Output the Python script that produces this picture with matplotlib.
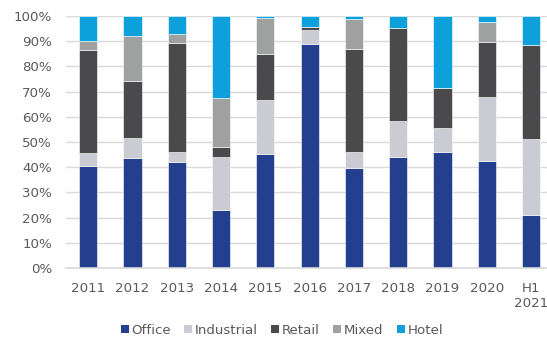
import numpy as np
import matplotlib.pyplot as plt
from matplotlib.patches import Patch

years = ['2011', '2012', '2013', '2014', '2015', '2016', '2017', '2018', '2019', '2020', 'H1\n2021']
office = [40.3, 43.7, 41.9, 23.2, 45.3, 88.7, 39.7, 44.1, 46.0, 42.5, 21.2]
industrial = [5.3, 7.7, 4.1, 20.9, 21.3, 5.7, 6.3, 14.3, 9.4, 25.4, 29.8]
retail = [40.8, 22.9, 43.4, 3.8, 18.3, 1.2, 40.8, 36.8, 16.1, 21.9, 37.3]
mixed = [3.7, 17.9, 3.6, 19.4, 14.4, 0.0, 12.0, 0.0, 0.0, 7.8, 0.0]
hotel = [9.9, 7.8, 7.0, 32.7, 0.7, 4.4, 1.2, 4.8, 28.5, 2.4, 11.7]

series = [
    ('Office', office, '#243f8e'),
    ('Industrial', industrial, '#cbcbd4'),
    ('Retail', retail, '#4a4a4c'),
    ('Mixed', mixed, '#9fa1a1'),
    ('Hotel', hotel, '#0ea0db'),
]

fig = plt.figure(figsize=(5.47, 3.37), dpi=100)
ax = fig.add_axes([66 / 547, 69 / 337, 481 / 547, 252 / 337])

x = np.arange(len(years))
bottom = np.zeros(len(years))
for name, vals, color in series:
    v = np.array(vals) / 100
    ax.bar(x, v, width=0.41, bottom=bottom, color=color,
           edgecolor='white', linewidth=0.4, zorder=3)
    bottom += v

ax.set_xlim(-0.5, 10.36)
ax.set_ylim(0, 1)
ax.set_yticks(np.arange(0, 1.01, 0.1))
ax.set_yticklabels([f'{int(round(t * 100))}%' for t in np.arange(0, 1.01, 0.1)])
ax.set_xticks(x)
ax.set_xticklabels(years)
ax.grid(axis='y', color='#d9d9d9', linewidth=1.0, zorder=0)
ax.set_axisbelow(True)

for side in ['top', 'right', 'left']:
    ax.spines[side].set_visible(False)
ax.spines['bottom'].set_color('#d9d9d9')
ax.spines['bottom'].set_linewidth(1.2)
ax.spines['bottom'].set_zorder(4)

ax.tick_params(axis='both', length=0, labelsize=9.6, colors='#595959')
ax.tick_params(axis='y', pad=10)
ax.tick_params(axis='x', pad=10)

handles = [Patch(facecolor=c, edgecolor='none', label=n) for n, _, c in series]
fig.legend(handles=handles, loc='center', bbox_to_anchor=(282 / 547, 1 - 330 / 337),
           ncol=5, frameon=False, fontsize=9.6, labelcolor='#595959',
           handlelength=0.6, handleheight=0.6, handletextpad=0.2, columnspacing=1.0)

fig.savefig('out.png', dpi=100)
